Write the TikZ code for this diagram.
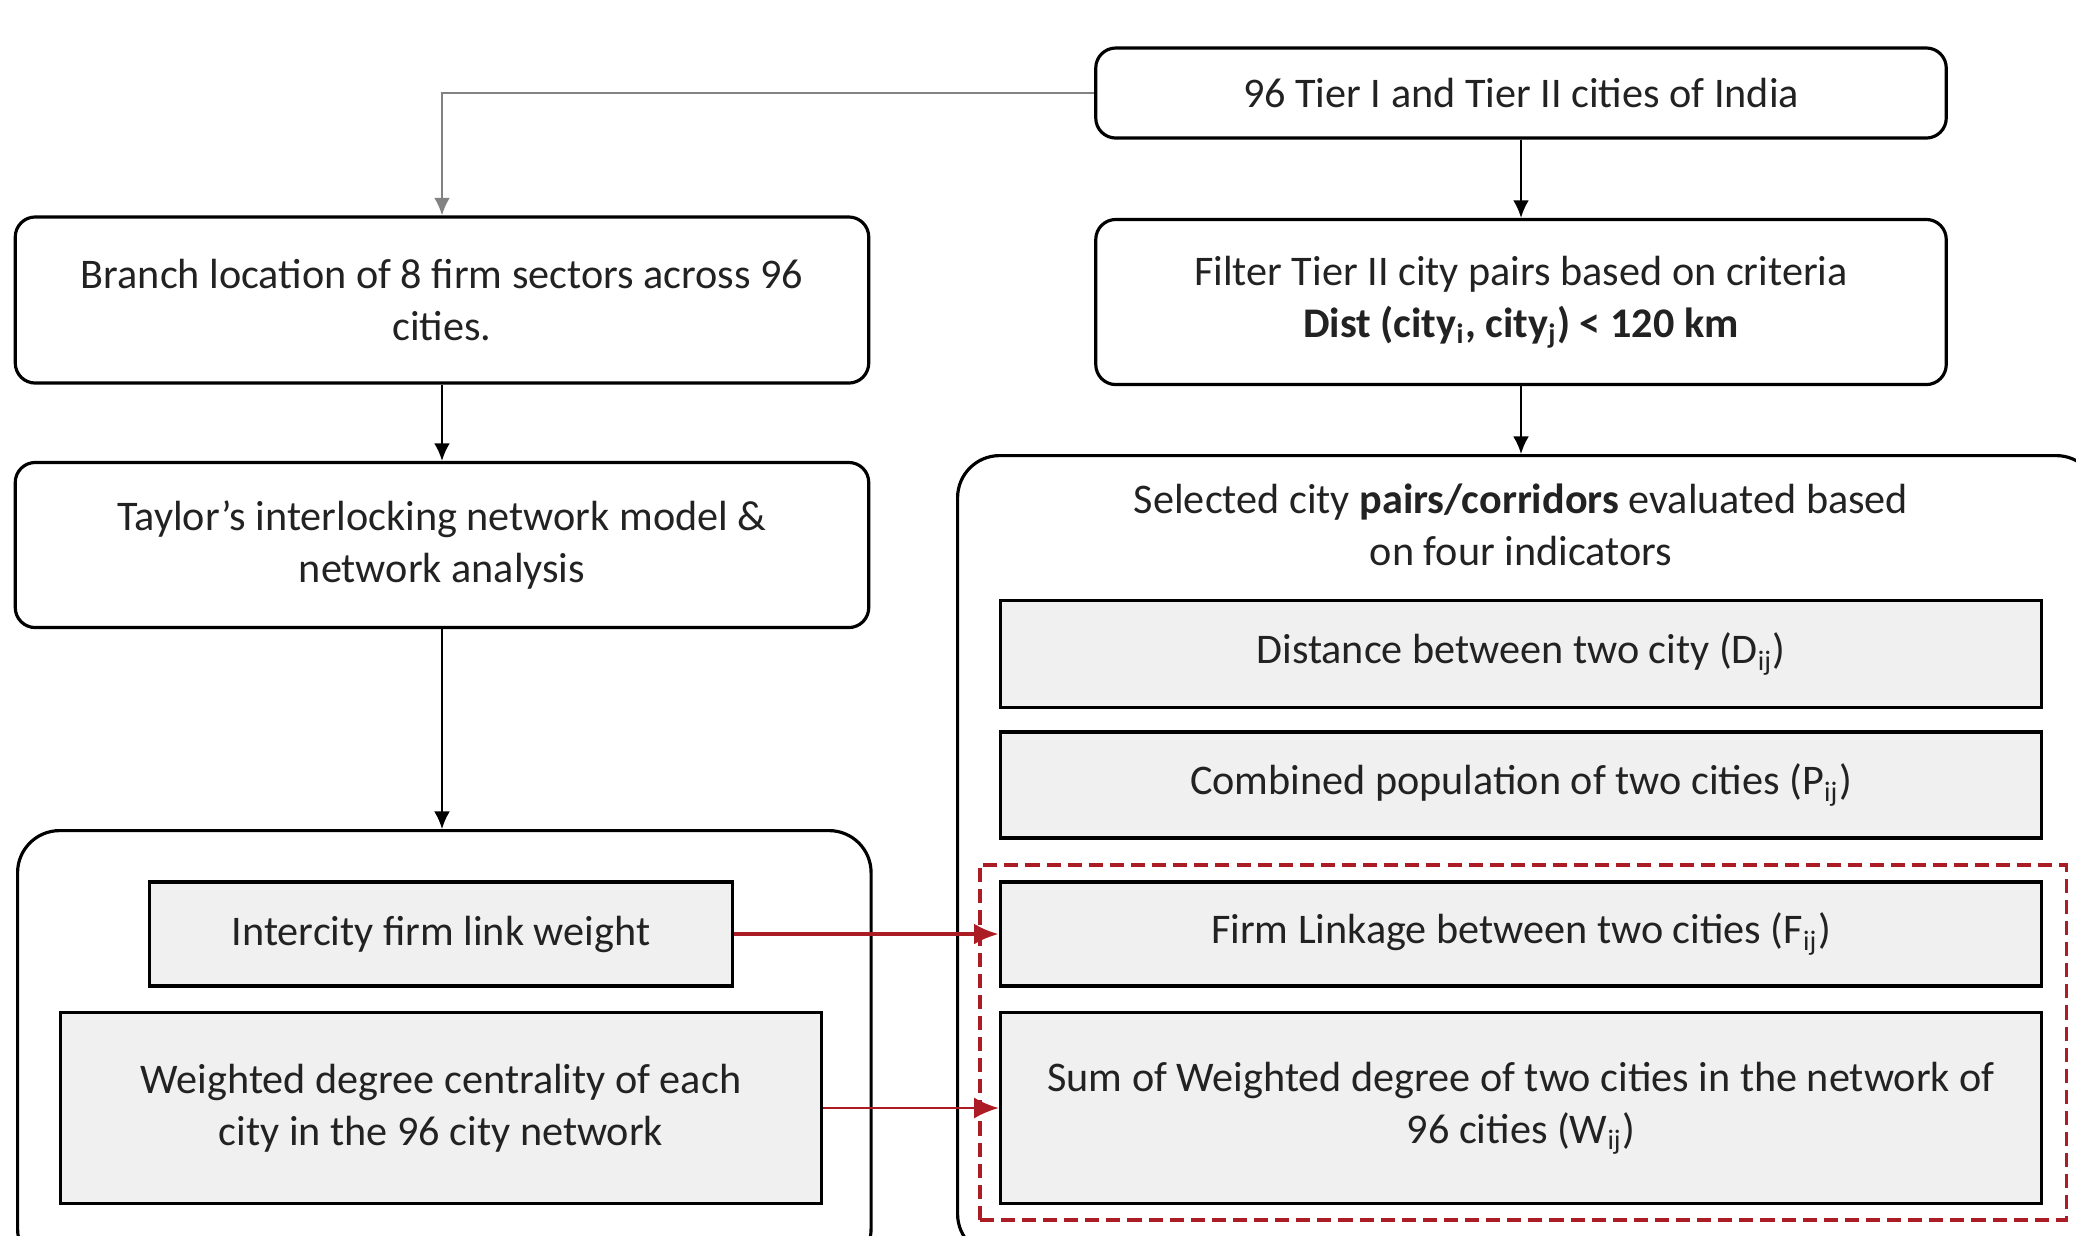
\documentclass[tikz,border=0pt]{standalone}
\usepackage{fontspec}
\setmainfont{Carlito}
\usetikzlibrary{positioning,arrows.meta}
\definecolor{boxGray}{RGB}{240,240,240}
\definecolor{linkRed}{RGB}{172,28,36}
\definecolor{textColor}{RGB}{34,34,34}
\definecolor{leadGray}{RGB}{130,130,130}
\tikzstyle{flowBox} = [draw, line width=0.9pt, rounded corners=0.2cm, align=center, inner sep=0pt, text=textColor, font=\fontsize{12}{14.8}\selectfont]
\tikzstyle{groupBox} = [draw, line width=0.9pt, rounded corners=0.42cm, inner sep=0pt, anchor=north west]
\tikzstyle{indicatorBox} = [draw, line width=0.9pt, fill=boxGray, align=center, inner sep=0pt, text=textColor, font=\fontsize{12}{14.8}\selectfont]
\tikzstyle{headText} = [align=center, text=textColor, font=\fontsize{12}{14.8}\selectfont]
\tikzstyle{focusFrame} = [draw=linkRed, line width=1pt, dash pattern=on 4pt off 2pt, inner sep=0pt, anchor=north west]
\tikzstyle{flowArrow} = [-{Latex[length=5pt,width=4.5pt]}, line width=0.6pt]
\tikzstyle{linkArrow} = [-{Latex[length=7pt,width=6pt]}, color=linkRed, line width=1.1pt]
\newcommand{\subIJ}{\textsubscript{ij}}

\begin{document}
\begin{tikzpicture}[x=0.01cm, y=-0.01cm]
  \useasboundingbox (0,0) rectangle (2076,1235);
  \clip (0,0) rectangle (2076,1235);

  \node[flowBox, minimum width=8.50cm, minimum height=0.90cm] (cities) at (1521,93) {96 Tier I and Tier II cities of India};
  \node[flowBox, minimum width=8.53cm, minimum height=1.66cm] (branch) at (442,300) {Branch location of 8 firm sectors across 96\\cities.};
  \node[flowBox, minimum width=8.50cm, minimum height=1.65cm] (filter) at (1521,302) {Filter Tier II city pairs based on criteria\\\textbf{Dist (city\textsubscript{i}, city\textsubscript{j}) < 120 km}};
  \node[flowBox, minimum width=8.53cm, minimum height=1.65cm] (taylor) at (442,545) {Taylor's interlocking network model \&\\network analysis};

  \node[groupBox, minimum width=11.40cm, minimum height=8.00cm] (pairGroup) at (956,454) {};
  \node[headText] (pairHead) at (1521,525) {Selected city \textbf{pairs/corridors} evaluated based\\on four indicators};
  \node[groupBox, minimum width=8.53cm, minimum height=4.40cm] (cityGroup) at (16,829) {};

  \node[indicatorBox, minimum width=10.41cm, minimum height=1.07cm] (distance) at (1521,654) {Distance between two city (D\subIJ)};
  \node[indicatorBox, minimum width=10.41cm, minimum height=1.06cm] (population) at (1521,785) {Combined population of two cities (P\subIJ)};
  \node[indicatorBox, minimum width=10.41cm, minimum height=1.04cm] (firmLink) at (1521,934) {Firm Linkage between two cities (F\subIJ)};
  \node[indicatorBox, minimum width=10.41cm, minimum height=1.91cm] (sumDegree) at (1521,1108) {Sum of Weighted degree of two cities in the network of\\96 cities (W\subIJ)};
  \node[focusFrame, minimum width=10.86cm, minimum height=3.55cm] (focus) at (978,863) {};

  \node[indicatorBox, minimum width=5.82cm, minimum height=1.04cm] (linkWeight) at (441,934) {Intercity firm link weight};
  \node[indicatorBox, minimum width=7.61cm, minimum height=1.91cm] (degreeCentral) at (441,1108) {Weighted degree centrality of each\\city in the 96 city network};

  \draw[flowArrow, leadGray] (cities.west) -| (branch.north);
  \draw[flowArrow] (cities) -- (filter);
  \draw[flowArrow] (branch) -- (taylor);
  \draw[flowArrow] (filter) -- (pairGroup.north -| filter.south);
  \draw[flowArrow] (taylor) -- (cityGroup.north -| taylor.south);
  \draw[linkArrow] (linkWeight) -- (firmLink);
  \draw[linkArrow, line width=0.6pt, -{Latex[length=7pt,width=6pt,fill=linkRed]}] (degreeCentral.east) -- (sumDegree.west);
\end{tikzpicture}
\end{document}
